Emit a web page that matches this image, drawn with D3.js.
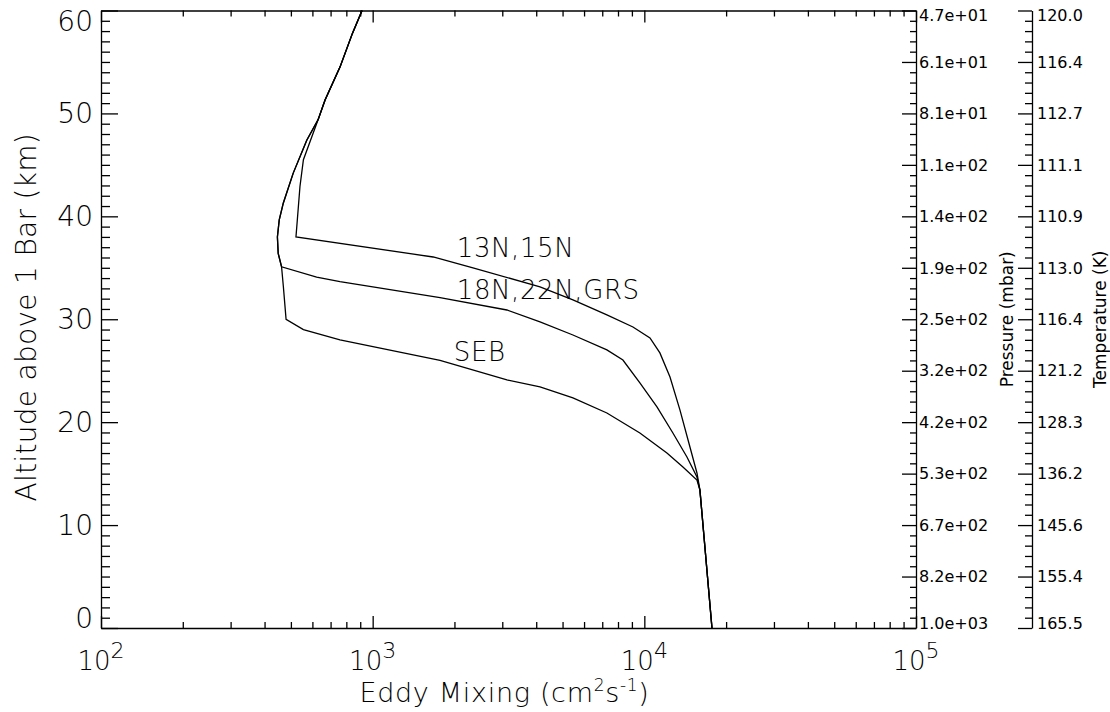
<!DOCTYPE html>
<html>
<head>
<meta charset="utf-8">
<script src="https://cdn.jsdelivr.net/npm/d3@7"></script>
<style>
  body { margin: 0; background: #fff; }
  text { font-family: "DejaVu Sans", sans-serif; fill: #000; }
  .big { font-weight: 200; }
  .axis path, .axis line { stroke: #000; stroke-width: 1.3; }
  .profile { fill: none; stroke: #000; stroke-width: 1.3; }
</style>
</head>
<body>
<div id="chart"></div>
<script>
// altitude above 1 bar (km) and eddy mixing coefficient (cm2/s) for each profile
var alt13N = [0, 13.4, 15.06, 17.59, 21.19, 24.39, 26.73, 28.18, 29.25, 30.42, 31.88, 33.14, 35.0, 36.05,
              38.0, 39.65, 42.9, 45.5, 49.4, 51.3, 54.5, 57.8, 60];
var kzz13N = [17740, 16020, 15620, 14720, 13520, 12430, 11410, 10490, 9080, 7280, 5460, 4130, 2340, 1670,
              522, 528, 540, 556, 630, 668, 758, 843, 914];

var alt18N = [0, 13.4, 14.67, 16.62, 18.95, 21.48, 23.81, 26.04, 27.02, 28.47, 29.74, 30.9, 32.1, 33.65,
              34.1, 35.1, 36.4, 38.0, 39.65, 41.3, 44.2, 47.4, 49.4, 51.3, 54.5, 57.8, 60];
var kzz18N = [17740, 16020, 15620, 14350, 12740, 11130, 9630, 8340, 7280, 5460, 4130, 3120, 1770, 758,
              622, 462, 449, 446, 453, 469, 510, 572, 630, 668, 758, 843, 914];

var altSEB = [0, 13.4, 14.38, 15.65, 17.01, 18.95, 20.89, 22.35, 23.42, 24.1, 26.0, 28.0, 29.0, 30.0,
              33.2, 35.1, 36.4, 38.0, 39.65, 41.3, 44.2, 47.4, 49.4, 51.3, 54.5, 57.8, 60];
var kzzSEB = [17740, 16020, 15620, 13870, 12110, 9630, 7280, 5460, 4130, 3120, 1770, 758, 556, 480,
              469, 462, 449, 446, 453, 469, 510, 572, 630, 668, 758, 843, 914];

// curve names, with the point (K, altitude) where each name starts
var profileNames = ["13N,15N", "18N,22N,GRS", "SEB"];
var nameK = [2040, 2040, 1990];
var nameAlt = [36.05, 31.97, 25.95];

// right hand axes, one label every 5 km from 0 to 60
var labelAlts = [0, 5, 10, 15, 20, 25, 30, 35, 40, 45, 50, 55, 60];
var pressureLabels = ["1.0e+03", "8.2e+02", "6.7e+02", "5.3e+02", "4.2e+02", "3.2e+02", "2.5e+02",
                      "1.9e+02", "1.4e+02", "1.1e+02", "8.1e+01", "6.1e+01", "4.7e+01"];
var temperatureLabels = ["165.5", "155.4", "145.6", "136.2", "128.3", "121.2", "116.4",
                         "113.0", "110.9", "111.1", "112.7", "116.4", "120.0"];

var decades = [2, 3, 4, 5];
var altMajor = [0, 10, 20, 30, 40, 50, 60];

var margin = { top: 10.5, left: 101, right: 194, bottom: 84 };
var width = 1110 - margin.left - margin.right,
    height = 712 - margin.top - margin.bottom;

var svg = d3.select("#chart").append("svg")
  .attr("width", 1110)
  .attr("height", 712)
  .append("g")
  .attr("transform", "translate(" + margin.left + "," + margin.top + ")");

var x = d3.scaleLog().domain([100, 100000]).range([0, width]);
var y = d3.scaleLinear().domain([0, 60]).range([height, 0]);

var isDecade = function (d) { return Math.abs(Math.log10(d) - Math.round(Math.log10(d))) < 1e-9; };
var logTicks = x.ticks();
var kmTicks = d3.range(0, 61, 1);

// bottom axis, ticks point up into the plot
var xBottom = svg.append("g")
  .attr("class", "axis")
  .attr("transform", "translate(0," + height + ")")
  .call(d3.axisBottom(x).tickValues(logTicks).tickFormat("").tickSizeOuter(0));
xBottom.selectAll(".tick line").attr("y2", function (d) { return isDecade(d) ? -12 : -6; });

// top axis
var xTop = svg.append("g")
  .attr("class", "axis")
  .call(d3.axisTop(x).tickValues(logTicks).tickFormat("").tickSizeOuter(0));
xTop.selectAll(".tick line").attr("y2", function (d) { return isDecade(d) ? 12 : 6; });

// left axis
var yLeft = svg.append("g")
  .attr("class", "axis")
  .call(d3.axisLeft(y).tickValues(kmTicks).tickFormat("").tickSizeOuter(0));
yLeft.selectAll(".tick line").attr("x2", function (d) { return d % 10 === 0 ? 17 : 9; });

// pressure axis on the right edge of the frame
var yPress = svg.append("g")
  .attr("class", "axis")
  .attr("transform", "translate(" + width + ",0)")
  .call(d3.axisRight(y).tickValues(kmTicks).tickFormat("").tickSizeOuter(0));
yPress.selectAll(".tick line").attr("x2", function (d) { return d % 5 === 0 ? -14 : -6; });

// temperature axis, a separate line further right
var tempX = width + 116;
var yTemp = svg.append("g")
  .attr("class", "axis")
  .attr("transform", "translate(" + tempX + ",0)")
  .call(d3.axisRight(y).tickValues(kmTicks).tickFormat("").tickSizeOuter(0));
yTemp.selectAll(".tick line").attr("x2", function (d) { return d % 5 === 0 ? -14 : -7; });

// end labels sit a little inside the frame, like the original
function nudge(d, amount) {
  if (d === 0) return -amount;
  if (d === 60) return amount;
  return 0;
}

// left tick labels
svg.selectAll(".ylab")
  .data(altMajor)
  .enter().append("text")
  .attr("class", "big")
  .attr("x", -8)
  .attr("y", function (d) { return y(d) + nudge(d, 10); })
  .attr("dy", "0.36em")
  .attr("text-anchor", "end")
  .style("font-size", "28px")
  .text(function (d) { return d; });

// x tick labels, 10 with a superscript power
var xl = svg.selectAll(".xlab")
  .data(decades)
  .enter().append("text")
  .attr("class", "big")
  .attr("x", function (d) { return x(Math.pow(10, d)); })
  .attr("y", height + 42)
  .attr("text-anchor", "middle")
  .style("font-size", "26px");
xl.append("tspan").text("10");
xl.append("tspan").attr("dy", -12).style("font-size", "22px").text(function (d) { return d; });

// right labels
svg.selectAll(".plab")
  .data(labelAlts)
  .enter().append("text")
  .attr("x", width + 3)
  .attr("y", function (d) { return y(d) + nudge(d, 5); })
  .attr("dy", "0.36em")
  .style("font-size", "16px")
  .text(function (d, i) { return pressureLabels[i]; });

svg.selectAll(".tlab")
  .data(labelAlts)
  .enter().append("text")
  .attr("x", tempX + 5)
  .attr("y", function (d) { return y(d) + nudge(d, 5); })
  .attr("dy", "0.36em")
  .style("font-size", "16px")
  .text(function (d, i) { return temperatureLabels[i]; });

// axis titles
svg.append("text")
  .attr("class", "big")
  .attr("transform", "translate(" + (-65) + "," + (y(30) - 2) + ") rotate(-90)")
  .attr("text-anchor", "middle")
  .style("font-size", "28px")
  .style("letter-spacing", "0.3px")
  .text("Altitude above 1 Bar (km)");

var xt = svg.append("text")
  .attr("class", "big")
  .attr("x", (x(1000) + x(10000)) / 2 - 4)
  .attr("y", height + 74)
  .attr("text-anchor", "middle")
  .style("font-size", "27px")
  .style("letter-spacing", "0.7px");
xt.append("tspan").text("Eddy Mixing (cm");
xt.append("tspan").attr("dy", -11).style("font-size", "17px").text("2");
xt.append("tspan").attr("dy", 11).text("s");
xt.append("tspan").attr("dy", -11).style("font-size", "17px").text("-1");
xt.append("tspan").attr("dy", 11).text(")");

svg.append("text")
  .attr("transform", "translate(" + (width + 97) + "," + y(30) + ") rotate(-90)")
  .attr("text-anchor", "middle")
  .style("font-size", "17px")
  .text("Pressure (mbar)");

svg.append("text")
  .attr("transform", "translate(" + (width + 190) + "," + y(30) + ") rotate(-90)")
  .attr("text-anchor", "middle")
  .style("font-size", "17px")
  .text("Temperature (K)");

// profiles
var profiles = [
  { alt: alt13N, k: kzz13N },
  { alt: alt18N, k: kzz18N },
  { alt: altSEB, k: kzzSEB }
];

var line = d3.line()
  .x(function (d) { return x(d[1]); })
  .y(function (d) { return y(d[0]); });

svg.selectAll(".profile")
  .data(profiles)
  .enter().append("path")
  .attr("class", "profile")
  .attr("d", function (p) { return line(d3.zip(p.alt, p.k)); });

// curve names
svg.selectAll(".pname")
  .data(profileNames)
  .enter().append("text")
  .attr("class", "big")
  .attr("x", function (d, i) { return x(nameK[i]); })
  .attr("y", function (d, i) { return y(nameAlt[i]); })
  .style("font-size", "26px")
  .style("letter-spacing", "0.6px")
  .text(function (d) { return d; });
</script>
</body>
</html>
